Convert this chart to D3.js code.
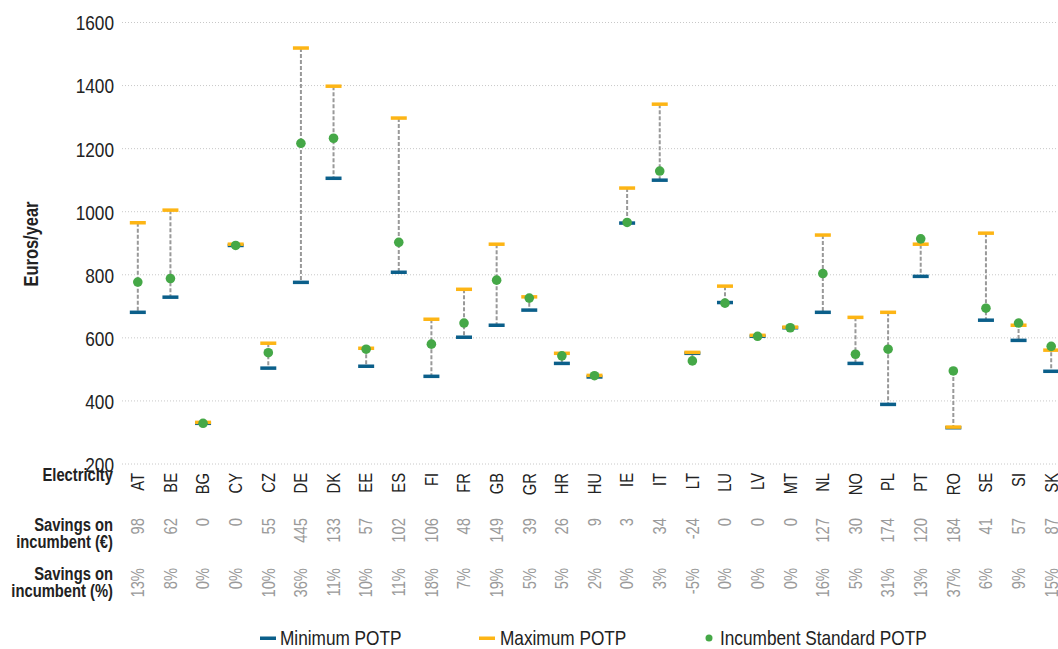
<!DOCTYPE html>
<html><head><meta charset="utf-8">
<script src="https://cdn.jsdelivr.net/npm/d3@7"></script>
<style>html,body{margin:0;padding:0;background:#fff;overflow:hidden}</style>
</head><body><svg id="c" width="1058" height="649"></svg>
<script>
const countries = ["AT","BE","BG","CY","CZ","DE","DK","EE","ES","FI","FR","GB","GR","HR","HU","IE","IT","LT","LU","LV","MT","NL","NO","PL","PT","RO","SE","SI","SK"];
const maxPOTP = [965,1005,332,897,583,1519,1398,567,1297,659,754,897,730,551,481,1075,1341,554,764,608,634,926,665,681,897,317,932,640,561];
const minPOTP = [681,729,329,893,504,776,1106,510,808,478,602,640,688,519,476,964,1100,551,712,605,632,681,519,389,795,315,656,592,494];
const incumbentPOTP = [777,788,329,893,553,1217,1233,564,903,580,647,783,726,543,480,966,1129,527,710,605,632,804,548,564,914,495,694,647,573];
const savingsEur = ["98","62","0","0","55","445","133","57","102","106","48","149","39","26","9","3","34","-24","0","0","0","127","30","174","120","184","41","57","87"];
const savingsPct = ["13%","8%","0%","0%","10%","36%","11%","10%","11%","18%","7%","19%","5%","5%","2%","0%","3%","-5%","0%","0%","0%","16%","5%","31%","13%","37%","6%","9%","15%"];
const yTicks = [200,400,600,800,1000,1200,1400,1600];
const legendItems = ["Minimum POTP","Maximum POTP","Incumbent Standard POTP"];

const BLUE="#0b5f8a", YELLOW="#fdb515", GREEN="#45a847", GRAY="#999";

function hasFont(f){const c=document.createElement("canvas").getContext("2d");
  c.font="40px monospace";const a=c.measureText("Minimum POTP 1600").width;
  c.font="40px '"+f+"', monospace";return c.measureText("Minimum POTP 1600").width!==a;}
const narrow = hasFont("Liberation Sans Narrow");
const FONT = narrow ? "'Liberation Sans Narrow','Arial Narrow',sans-serif" : "'Liberation Sans',Arial,sans-serif";

const svg=d3.select("#c").style("font-family",FONT);
const x=d3.scaleBand().domain(countries).range([121.5,1067.5]).padding(0);
const y=d3.scaleLinear().domain([200,1600]).range([464,22.5]);
const cx=d=>x(d)+x.bandwidth()/2;

svg.append("g").selectAll("line").data(yTicks).join("line")
  .attr("x1",122).attr("x2",1058).attr("y1",d=>y(d)).attr("y2",d=>y(d))
  .attr("stroke","#c8c8c8").attr("stroke-width",1).attr("stroke-dasharray","1,2");

const yAxis=d3.axisLeft(y).tickValues(yTicks).tickSize(0).tickPadding(0).tickFormat(d3.format("d"));
const ga=svg.append("g").attr("transform","translate(114,0)").call(yAxis);
ga.select(".domain").remove();
ga.selectAll("text").attr("font-size",21).attr("fill","#222").style("font-family",FONT).attr("dy","0.35em");

svg.append("text").attr("transform","translate(38,244) rotate(-90)").attr("text-anchor","middle")
  .attr("font-size",20).attr("font-weight","bold").attr("fill","#222").text("Euros/year");

const data=countries.map((c,i)=>({c,mx:maxPOTP[i],mn:minPOTP[i],inc:incumbentPOTP[i]}));

svg.append("g").selectAll("line").data(data).join("line")
  .attr("x1",d=>cx(d.c)).attr("x2",d=>cx(d.c))
  .attr("y1",d=>y(Math.max(d.mx,d.mn,d.inc))).attr("y2",d=>y(Math.min(d.mx,d.mn,d.inc)))
  .attr("stroke",GRAY).attr("stroke-width",2).attr("stroke-dasharray","4,2");

svg.append("g").selectAll("rect").data(data).join("rect")
  .attr("x",d=>cx(d.c)-8).attr("width",16).attr("y",d=>y(d.mn)-1.75).attr("height",3.5).attr("fill",BLUE);
svg.append("g").selectAll("rect").data(data).join("rect")
  .attr("x",d=>cx(d.c)-8).attr("width",16).attr("y",d=>y(d.mx)-1.75).attr("height",3.5).attr("fill",YELLOW);
svg.append("g").selectAll("circle").data(data).join("circle")
  .attr("cx",d=>cx(d.c)).attr("cy",d=>y(d.inc)).attr("r",4.8).attr("fill",GREEN);

function rotRow(vals,top,color,size){
  svg.append("g").selectAll("text").data(countries).join("text")
    .attr("transform",d=>`translate(${cx(d)},${top}) rotate(-90)`)
    .attr("text-anchor","end").attr("dy","0.35em").attr("font-size",size).attr("fill",color)
    .text((d,i)=>vals[i]);
}
rotRow(countries,473,"#222",18);
rotRow(savingsEur,518,"#9a9a9a",18);
rotRow(savingsPct,568,"#9a9a9a",18);

const rowLabels=[["Electricity",481],["Savings on",531],["incumbent (€)",548],["Savings on",580],["incumbent (%)",597]];
svg.append("g").selectAll("text").data(rowLabels).join("text")
  .attr("x",113).attr("y",d=>d[1]).attr("text-anchor","end").attr("font-size",18)
  .attr("font-weight","bold").attr("fill","#222").text(d=>d[0]);

const lg=svg.append("g");
lg.append("rect").attr("x",260).attr("y",636.5).attr("width",16).attr("height",3.5).attr("fill",BLUE);
lg.append("rect").attr("x",479).attr("y",636.5).attr("width",16).attr("height",3.5).attr("fill",YELLOW);
lg.append("circle").attr("cx",709).attr("cy",638).attr("r",3.5).attr("fill",GREEN);
lg.selectAll("text").data(legendItems).join("text")
  .attr("x",(d,i)=>[280,500,720][i]).attr("y",645).attr("font-size",21).attr("fill","#222").text(d=>d);

if(!narrow){
  svg.selectAll("text").each(function(){
    const l=this.getComputedTextLength();
    if(l>0){this.setAttribute("textLength",(l*0.82).toFixed(2));this.setAttribute("lengthAdjust","spacingAndGlyphs");}
  });
}
</script></body></html>
